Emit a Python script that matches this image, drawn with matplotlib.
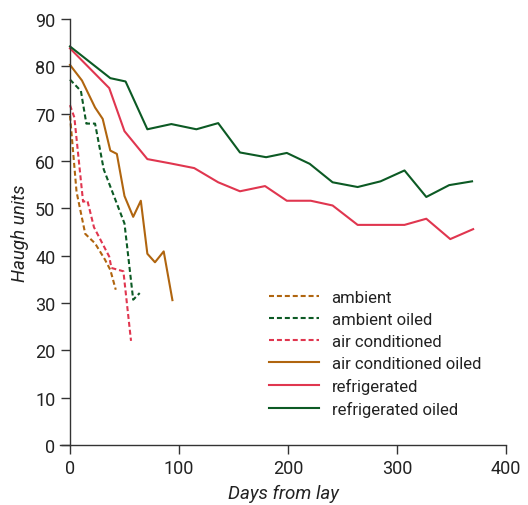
import matplotlib
matplotlib.use('Agg')
import matplotlib.pyplot as plt

plt.rcParams['font.family'] = ['Roboto', 'DejaVu Sans']

# days from lay and Haugh units
amb_days = [0, 6, 14, 23, 32, 37, 42]
amb_vals = [69.6, 53.5, 44.6, 42.6, 39.2, 37.0, 32.8]

amb_oil_days = [0, 10, 15, 23, 31, 50, 58, 64]
amb_oil_vals = [77.2, 74.8, 67.9, 67.9, 58.2, 46.8, 30.7, 32.1]

ac_days = [0, 4, 12, 16, 22, 36, 38, 49, 56]
ac_vals = [71.8, 69.2, 51.4, 51.6, 46.0, 39.8, 37.4, 36.7, 22.0]

ac_oil_days = [0, 11, 23, 30, 37, 43, 50, 58, 65, 71, 78, 86, 94]
ac_oil_vals = [80.3, 77.0, 71.3, 68.9, 62.2, 61.5, 52.6, 48.2, 51.6, 40.4, 38.6, 40.9, 30.6]

ref_days = [0, 36, 50, 71, 92, 114, 136, 156, 179, 199, 221, 241, 264, 286, 307, 327, 349, 370]
ref_vals = [83.8, 75.4, 66.3, 60.4, 59.5, 58.5, 55.5, 53.6, 54.7, 51.6, 51.6, 50.6, 46.5, 46.5, 46.5, 47.8, 43.5, 45.6]

ref_oil_days = [0, 37, 51, 71, 93, 116, 136, 156, 180, 199, 220, 241, 264, 285, 307, 327, 348, 369]
ref_oil_vals = [84.2, 77.5, 76.8, 66.7, 67.8, 66.7, 68.0, 61.8, 60.8, 61.7, 59.4, 55.5, 54.5, 55.7, 58.0, 52.4, 54.9, 55.7]

brown = '#b0650f'
green = '#0c5a24'
red = '#e0364f'
dash = (0, (2.4, 1.4))

fig = plt.figure(figsize=(5.28, 5.06), dpi=100)
ax = fig.add_axes([0.114, 0.1186, 0.844, 0.8419])

ax.plot(amb_days, amb_vals, color=brown, ls=dash, lw=1.5, label='ambient')
ax.plot(amb_oil_days, amb_oil_vals, color=green, ls=dash, lw=1.5, label='ambient oiled')
ax.plot(ac_days, ac_vals, color=red, ls=dash, lw=1.5, label='air conditioned')
ax.plot(ac_oil_days, ac_oil_vals, color=brown, lw=1.5, label='air conditioned oiled')
ax.plot(ref_days, ref_vals, color=red, lw=1.5, label='refrigerated')
ax.plot(ref_oil_days, ref_oil_vals, color=green, lw=1.5, label='refrigerated oiled')

ax.set_xlim(-9, 400)
ax.set_ylim(0, 90)
ax.set_xticks([0, 100, 200, 300, 400])
ax.set_yticks(range(0, 91, 10))
ax.spines['top'].set_visible(False)
ax.spines['right'].set_visible(False)
ax.spines['left'].set_position(('data', 0))
for s in ('left', 'bottom'):
    ax.spines[s].set_color('#333333')
    ax.spines[s].set_linewidth(1.0)
ax.tick_params(direction='out', length=6.5, width=1, color='#333333',
               labelsize=13, labelcolor='#222222')
ax.yaxis.set_tick_params(pad=4)

ax.set_xlabel('Days from lay', fontsize=13.5, style='italic', color='#222222', labelpad=5)
ax.set_ylabel('Haugh units', fontsize=13.5, style='italic', color='#222222')
ax.yaxis.set_label_coords(-0.07, 0.5)

ax.legend(loc='upper left', bbox_to_anchor=(0.435, 0.40), frameon=False,
          fontsize=12, handlelength=3.0, handletextpad=0.75, labelspacing=0.42,
          labelcolor='#222222')

fig.savefig('out.png', dpi=100)
